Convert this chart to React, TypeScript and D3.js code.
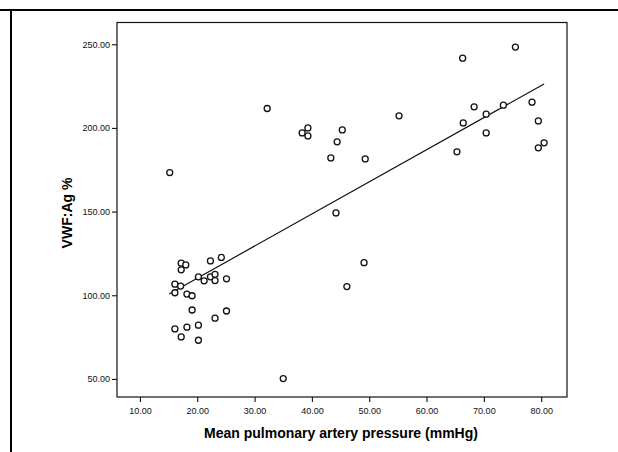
import React, { useRef, useEffect } from "react";
import * as d3 from "d3";

// mean pulmonary artery pressure (mmHg)
const mpap = [
  15.2, 32.2, 38.3, 39.3, 39.3, 45.3, 44.4, 43.3, 49.3, 44.2, 49.1, 46.1, 35.0,
  55.2, 66.4, 68.3, 70.4, 70.4, 65.3, 73.4, 78.4, 79.5, 79.5, 80.5, 66.3, 75.5,
  17.2, 18.0, 17.2, 22.3, 24.2, 16.1, 17.1, 16.1, 20.2, 21.2, 22.3, 23.1, 23.1,
  25.1, 18.2, 19.1, 19.1, 23.1, 25.1, 16.1, 18.2, 20.2, 17.2, 20.2,
];
// VWF:Ag %
const vwf = [
  173.3, 211.6, 197.0, 200.0, 195.2, 198.8, 191.7, 182.1, 181.5, 149.2, 119.5,
  105.2, 50.2, 207.2, 203.0, 212.6, 208.2, 197.0, 185.7, 213.6, 215.4, 204.2,
  188.1, 191.1, 241.7, 248.3, 119.2, 118.1, 115.2, 120.5, 122.6, 106.6, 105.5,
  101.5, 111.0, 108.6, 111.0, 112.5, 108.8, 109.8, 100.7, 99.7, 91.2, 86.3, 90.6,
  79.9, 80.9, 82.1, 75.1, 73.1,
];
// fitted line, read at its two ends
const fitX = [15.1, 80.5];
const fitY = [100.8, 226.3];

const xTicks = [10, 20, 30, 40, 50, 60, 70, 80];
const yTicks = [50, 100, 150, 200, 250];

export default function App() {
  const svgRef = useRef<SVGSVGElement>(null);

  useEffect(() => {
    const width = 618;
    const height = 452;
    const left = 117, right = 567, top = 22.5, bottom = 397;
    const font = "Arial, 'Liberation Sans', sans-serif";

    const svg = d3.select(svgRef.current);
    svg.selectAll("*").remove();
    svg.attr("width", width).attr("height", height);

    svg.append("rect").attr("width", width).attr("height", height).attr("fill", "white");

    // page rules from the scan
    svg.append("line").attr("x1", 0).attr("x2", width).attr("y1", 10).attr("y2", 10)
      .attr("stroke", "black").attr("stroke-width", 2);
    svg.append("line").attr("x1", 11).attr("x2", 11).attr("y1", 10).attr("y2", height)
      .attr("stroke", "black").attr("stroke-width", 2);

    const x = d3.scaleLinear().domain([6.0, 84.5]).range([left, right]);
    const y = d3.scaleLinear().domain([39.2, 263]).range([bottom, top]);

    svg.append("rect")
      .attr("x", left).attr("y", top)
      .attr("width", right - left).attr("height", bottom - top)
      .attr("fill", "none").attr("stroke", "#111").attr("stroke-width", 1.2);

    const xAxis = svg.append("g")
      .attr("transform", `translate(0,${bottom})`)
      .call(d3.axisBottom(x).tickValues(xTicks).tickSize(5).tickSizeOuter(0).tickFormat(d3.format(".2f")));
    const yAxis = svg.append("g")
      .attr("transform", `translate(${left},0)`)
      .call(d3.axisLeft(y).tickValues(yTicks).tickSize(5).tickSizeOuter(0).tickFormat(d3.format(".2f")));

    [xAxis, yAxis].forEach((g) => {
      g.select(".domain").remove();
      g.selectAll("line").attr("stroke", "#111").attr("stroke-width", 1.1);
      g.selectAll("text").attr("font-family", font).attr("font-size", 9).attr("fill", "#111");
    });
    xAxis.selectAll("text").attr("dy", "0.95em").attr("y", 8);
    yAxis.selectAll("text").attr("x", -7);

    const line = d3.line<number>().x((d) => x(d)).y((_, i) => y(fitY[i]));
    svg.append("path")
      .attr("d", line(fitX))
      .attr("fill", "none").attr("stroke", "#111").attr("stroke-width", 1.2);

    svg.append("g")
      .selectAll("circle")
      .data(mpap)
      .enter()
      .append("circle")
      .attr("cx", (d) => x(d))
      .attr("cy", (_, i) => y(vwf[i]))
      .attr("r", 3)
      .attr("fill", "white")
      .attr("stroke", "#111")
      .attr("stroke-width", 1.3);

    svg.append("text")
      .attr("x", (left + right) / 2 - 1)
      .attr("y", 438)
      .attr("text-anchor", "middle")
      .attr("font-family", font)
      .attr("font-weight", "bold")
      .attr("font-size", 14)
      .text("Mean pulmonary artery pressure (mmHg)");

    svg.append("text")
      .attr("transform", `translate(72,213) rotate(-90)`)
      .attr("text-anchor", "middle")
      .attr("font-family", font)
      .attr("font-weight", "bold")
      .attr("font-size", 14)
      .text("VWF:Ag %");
  }, []);

  return <svg ref={svgRef} style={{ position: "absolute", left: 0, top: 0 }}></svg>;
}
